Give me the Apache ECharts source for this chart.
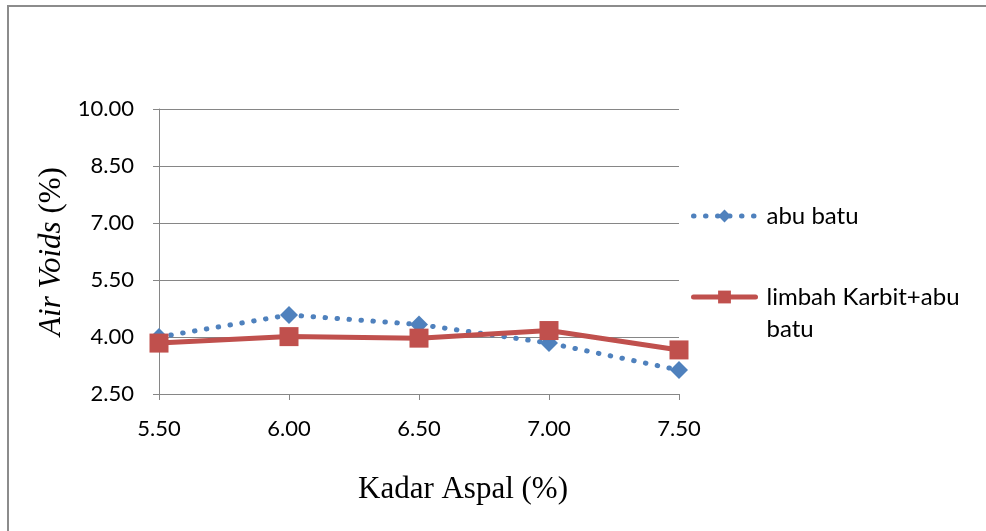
<!DOCTYPE html>
<html>
<head>
<meta charset="utf-8">
<script src="https://cdn.jsdelivr.net/npm/echarts@6/dist/echarts.min.js"></script>
<style>
  html, body { margin: 0; padding: 0; background: #ffffff; }
  #chart { width: 986px; height: 531px; }
</style>
</head>
<body>
<div id="chart"></div>
<script>
// Asphalt content (%) on the x axis
const kadarAspal = ['5.50', '6.00', '6.50', '7.00', '7.50'];
// Air voids (%) for each filler mix
const abuBatu = [4.00, 4.58, 4.33, 3.84, 3.13];
const limbahKarbit = [3.84, 4.01, 3.97, 4.17, 3.66];
const seriesNames = ['abu batu', 'limbah Karbit+abu batu'];

const labelFont = 'Lato, "Open Sans", "Liberation Sans", sans-serif';
const titleFont = '"Liberation Serif", "DejaVu Serif", serif';
const axisGrey = '#868686';
const dotted = [0.5, 11.5];

const chart = echarts.init(document.getElementById('chart'), null, { renderer: 'canvas' });

const legendText = { fontFamily: labelFont, fontSize: 24, color: '#000', lineHeight: 32, padding: [0, 0, 0, 6] };

chart.setOption({
  animation: false,
  backgroundColor: '#ffffff',
  grid: { left: 159, right: 307, top: 109, bottom: 137, containLabel: false },
  graphic: [
    {
      type: 'polyline',
      shape: { points: [[8, 531], [8, 6], [986, 6]] },
      style: { stroke: '#8c8c8c', lineWidth: 2, fill: null },
      silent: true
    }
  ],
  legend: [
    {
      left: 686,
      top: 195,
      itemWidth: 62,
      itemHeight: 16,
      textStyle: legendText,
      lineStyle: { width: 5, type: dotted, cap: 'round' },
      data: [seriesNames[0]]
    },
    {
      left: 686,
      top: 244,
      itemWidth: 62,
      itemHeight: 16,
      textStyle: legendText,
      lineStyle: { width: 5, cap: 'round' },
      // leading blank line keeps the first text line level with the icon
      formatter: function () { return '\nlimbah Karbit+abu\nbatu'; },
      data: [seriesNames[1]]
    }
  ],
  xAxis: {
    type: 'category',
    data: kadarAspal,
    boundaryGap: false,
    axisLine: { show: true, lineStyle: { color: axisGrey, width: 1 } },
    axisTick: { show: true, alignWithLabel: true, length: 6, lineStyle: { color: axisGrey } },
    axisLabel: { fontFamily: labelFont, fontSize: 22, color: '#000', margin: 24 },
    splitLine: { show: false },
    name: 'Kadar Aspal (%)',
    nameLocation: 'middle',
    nameGap: 80,
    nameTextStyle: { fontFamily: titleFont, fontSize: 31, color: '#000', padding: [0, 0, 0, 88] }
  },
  yAxis: {
    type: 'value',
    min: 2.5,
    max: 10,
    interval: 1.5,
    axisLine: { show: true, lineStyle: { color: axisGrey, width: 1 } },
    axisTick: { show: true, length: 6, lineStyle: { color: axisGrey } },
    axisLabel: {
      fontFamily: labelFont, fontSize: 22, color: '#000', margin: 25,
      formatter: function (v) { return v.toFixed(2); }
    },
    splitLine: { show: true, lineStyle: { color: axisGrey, width: 1 } },
    name: '{i|Air Voids }{n|(%)}',
    nameLocation: 'middle',
    nameGap: 66,
    nameRotate: 90,
    nameTextStyle: {
      color: '#000',
      rich: {
        i: { fontFamily: titleFont, fontSize: 31, fontStyle: 'italic', color: '#000' },
        n: { fontFamily: titleFont, fontSize: 31, color: '#000' }
      }
    }
  },
  series: [
    {
      name: seriesNames[0],
      type: 'line',
      data: abuBatu,
      symbol: 'diamond',
      symbolSize: 18,
      showAllSymbol: true,
      itemStyle: { color: '#4F81BD' },
      lineStyle: { color: '#4F81BD', width: 5, type: dotted, cap: 'round' },
      z: 2
    },
    {
      name: seriesNames[1],
      type: 'line',
      data: limbahKarbit,
      symbol: 'rect',
      symbolSize: 19,
      showAllSymbol: true,
      itemStyle: { color: '#C0504D' },
      lineStyle: { color: '#C0504D', width: 5 },
      z: 3
    }
  ]
});
</script>
</body>
</html>
